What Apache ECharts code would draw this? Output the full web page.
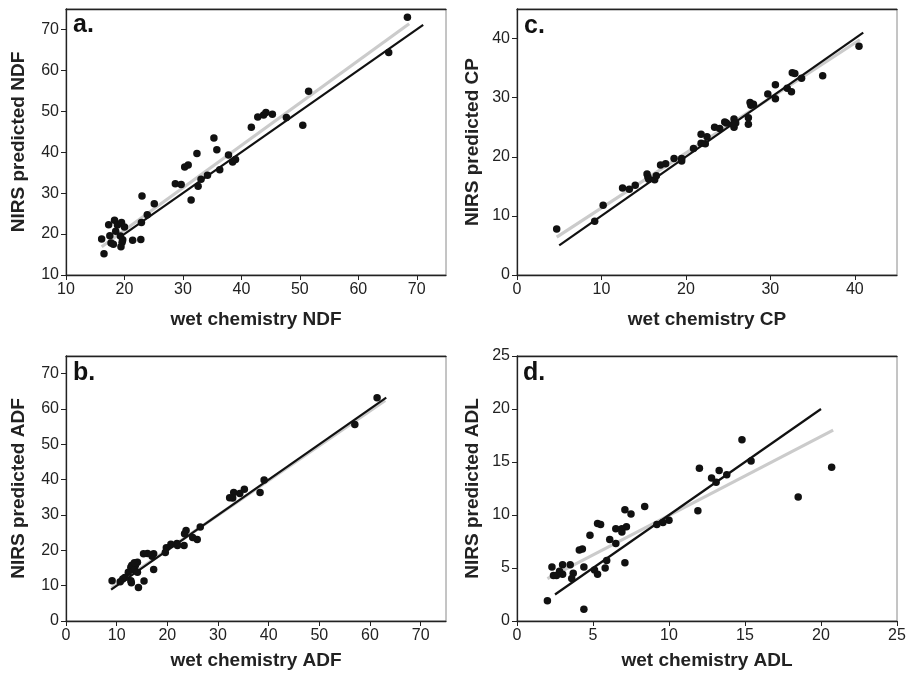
<!DOCTYPE html>
<html>
<head>
<meta charset="utf-8">
<script src="https://cdn.jsdelivr.net/npm/echarts@6/dist/echarts.min.js"></script>
<style>
html,body{margin:0;padding:0;background:#fff;}
#chart{width:911px;height:674px;}
</style>
</head>
<body>
<div id="chart"></div>
<script>
// ---- Data ----
const ndfPoints = [
  [68.4,73.0],[65.2,64.4],[51.5,54.9],[50.5,46.6],[47.7,48.5],[45.3,49.3],[44.2,49.7],[43.8,49.1],
  [42.8,48.6],[41.7,46.1],[35.3,43.5],[35.8,40.6],[32.4,39.7],[37.8,39.3],[39.0,38.2],[38.5,37.6],
  [30.9,36.9],[30.3,36.4],[36.3,35.7],[34.2,34.4],[33.1,33.4],[28.7,32.3],[29.7,32.1],[32.6,31.7],
  [31.4,28.3],[23.0,29.3],[25.1,27.4],[23.9,24.7],[22.9,22.8],[22.8,18.7],[21.4,18.5],[18.3,23.4],
  [17.3,22.3],[18.8,22.2],[19.5,22.8],[20.0,21.7],[18.5,20.7],[17.5,19.6],[19.3,19.5],[16.1,18.8],
  [19.7,18.6],[17.7,17.8],[18.1,17.5],[19.6,18.0],[19.4,16.9],[16.5,15.2]
];
const ndfFit = [[16.1,16.9],[68.7,71.4]];
const ndfOneToOne = [[19.6,19.6],[71.1,71.1]];

const cpPoints = [
  [4.7,7.8],[9.2,9.1],[10.2,11.8],[12.5,14.7],[13.3,14.5],[14.0,15.2],[15.4,17.1],[15.5,16.6],
  [15.6,16.2],[16.3,16.1],[16.5,16.8],[17.0,18.6],[17.6,18.8],[18.6,19.7],[19.5,19.7],[19.5,19.3],
  [20.9,21.4],[21.8,23.8],[21.8,22.3],[22.3,22.2],[22.5,23.4],[23.4,25.0],[24.0,24.8],[24.6,25.9],
  [24.8,25.7],[25.7,26.4],[25.7,25.0],[25.9,25.7],[25.6,25.5],[27.4,26.6],[27.4,25.5],[27.6,29.2],
  [27.7,28.7],[28.0,28.9],[29.7,30.6],[30.6,32.2],[30.6,29.8],[32.0,31.6],[32.5,31.0],[32.6,34.2],
  [32.9,34.1],[33.7,33.3],[36.2,33.7],[40.5,38.7]
];
const cpFit = [[4.7,6.4],[40.6,39.8]];
const cpOneToOne = [[5.0,5.0],[41.0,41.0]];

const adfPoints = [
  [61.4,63.2],[57.0,55.6],[39.1,39.9],[38.3,36.4],[35.2,37.3],[34.3,36.1],[33.1,36.4],[32.9,34.8],
  [32.3,34.9],[26.5,26.6],[25.9,23.1],[25.0,23.6],[23.7,25.6],[23.4,24.7],[23.3,21.4],[21.9,21.9],
  [22.0,21.4],[20.7,21.7],[19.8,20.7],[19.6,19.4],[17.3,19.0],[17.0,18.3],[16.1,19.1],[15.3,19.0],
  [17.3,14.6],[15.4,11.3],[14.3,9.5],[14.1,16.6],[13.7,15.8],[13.0,15.8],[12.8,15.2],[13.5,14.4],
  [14.1,13.8],[12.3,13.8],[12.8,11.4],[12.9,10.8],[11.6,12.3],[11.2,11.9],[10.7,11.1],[9.1,11.4],
  [13.5,16.5]
];
const adfFit = [[9.0,9.3],[63.0,62.4]];
const adfOneToOne = [[8.9,8.9],[63.2,63.2]];

const adlPoints = [
  [20.7,14.5],[18.5,11.7],[14.8,17.1],[15.4,15.1],[12.0,14.4],[13.3,14.2],[12.8,13.5],[13.1,13.1],
  [13.8,13.8],[11.9,10.4],[10.0,9.5],[9.6,9.3],[9.2,9.1],[8.4,10.8],[7.5,10.1],[7.1,10.5],
  [7.2,8.9],[6.9,8.7],[6.9,8.4],[6.5,8.7],[6.5,7.3],[6.1,7.7],[5.3,9.2],[5.5,9.1],
  [4.8,8.1],[4.3,6.8],[4.1,6.7],[5.9,5.7],[7.1,5.5],[5.8,5.0],[5.3,4.4],[5.1,4.8],
  [4.4,5.1],[3.5,5.3],[3.7,4.5],[3.6,4.0],[3.0,5.3],[3.0,4.4],[2.8,4.7],[2.6,4.3],
  [2.3,5.1],[2.4,4.3],[2.0,1.9],[4.4,1.1]
];
const adlFit = [[2.0,4.0],[20.8,18.0]];
const adlOneToOne = [[2.5,2.5],[20.0,20.0]];

const ticksA = [10,20,30,40,50,60,70];
const ticksB = [0,10,20,30,40,50,60,70];
const ticksC = [0,10,20,30,40];
const ticksD = [0,5,10,15,20,25];

const panelLetters = ['a.','c.','b.','d.'];
const xTitles = ['wet chemistry NDF','wet chemistry CP','wet chemistry ADF','wet chemistry ADL'];
const yTitles = ['NIRS predicted NDF','NIRS predicted CP','NIRS predicted ADF','NIRS predicted ADL'];

// ---- Layout ----
const FONT = "'Liberation Sans', Arial, Helvetica, sans-serif";
const grids = [
  {left:66, top:9, width:380, height:266},
  {left:517, top:9, width:380, height:266},
  {left:66, top:356, width:380, height:265},
  {left:517, top:356, width:380, height:265}
];
const ranges = [
  {min:10, max:75, ticks:ticksA},
  {min:0, max:45, ticks:ticksC},
  {min:0, max:75, ticks:ticksB},
  {min:0, max:25, ticks:ticksD}
];
const xNameGap = [35, 35, 30, 30];
const yNameGap = [38, 35, 38, 35];

function mainAxis(i, isX){
  const r = ranges[i];
  return {
    type:'value', gridIndex:i, min:r.min, max:r.max,
    position: isX ? 'bottom' : 'left',
    splitLine:{show:false},
    axisLine:{show:true, onZero:false, lineStyle:{color:'#222', width:1.3}},
    axisTick:{show:true, inside:false, length:5, customValues:r.ticks, lineStyle:{color:'#222'}},
    axisLabel:{show:true, customValues:r.ticks, color:'#222', fontFamily:FONT, fontSize:16, margin: isX ? 7 : 7},
    name: isX ? xTitles[i] : yTitles[i],
    nameLocation:'middle',
    nameGap: isX ? xNameGap[i] : yNameGap[i],
    nameTextStyle:{color:'#222', fontFamily:FONT, fontSize:19, fontWeight:'bold'}
  };
}
function topAxis(i){
  const r = ranges[i];
  return {
    type:'value', gridIndex:i, min:r.min, max:r.max, position:'top',
    splitLine:{show:false},
    axisLine:{show:true, onZero:false, lineStyle:{color:'#222', width:1.3}},
    axisTick:{show:false}, axisLabel:{show:false}
  };
}

const xAxes = [0,1,2,3].map(i => mainAxis(i, true)).concat([0,1,2,3].map(topAxis));
const yAxes = [0,1,2,3].map(i => mainAxis(i, false));

const panelData = [
  {pts:ndfPoints, fit:ndfFit, one:ndfOneToOne},
  {pts:cpPoints, fit:cpFit, one:cpOneToOne},
  {pts:adfPoints, fit:adfFit, one:adfOneToOne},
  {pts:adlPoints, fit:adlFit, one:adlOneToOne}
];

const series = [];
panelData.forEach((p, i) => {
  series.push({
    type:'line', xAxisIndex:i, yAxisIndex:i, data:p.fit, symbol:'none', silent:true,
    lineStyle:{color:'#cbcbcb', width:3.2}, z:2
  });
  series.push({
    type:'line', xAxisIndex:i, yAxisIndex:i, data:p.one, symbol:'none', silent:true,
    lineStyle:{color:'#111', width:2.2}, z:3
  });
  series.push({
    type:'scatter', xAxisIndex:i, yAxisIndex:i, data:p.pts, symbol:'circle', symbolSize:7.5,
    itemStyle:{color:'#111', opacity:1}, z:4
  });
});

const letterPos = [[73,25],[524,26],[73,373],[523,373]];

const chart = echarts.init(document.getElementById('chart'), null, {renderer:'canvas'});
chart.setOption({
  animation:false,
  backgroundColor:'#fff',
  grid: grids.map(g => Object.assign({show:true, borderColor:'#8a8a8a', borderWidth:1, backgroundColor:'transparent', containLabel:false}, g)),
  xAxis: xAxes,
  yAxis: yAxes,
  series: series,
  graphic: panelLetters.map((t, i) => ({
    type:'text', x:letterPos[i][0], y:letterPos[i][1], z:10,
    style:{text:t, fill:'#111', font:'bold 25px ' + FONT, verticalAlign:'middle', align:'left'}
  }))
});
</script>
</body>
</html>
